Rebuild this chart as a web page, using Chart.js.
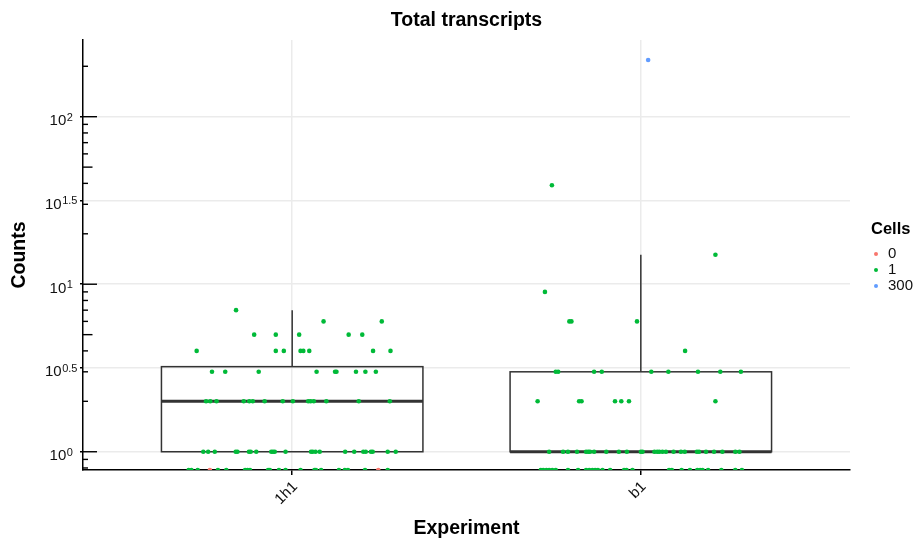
<!DOCTYPE html>
<html>
<head>
<meta charset="utf-8">
<script src="https://cdn.jsdelivr.net/npm/chart.js@4.4.0/dist/chart.umd.min.js"></script>
<style>
  body { margin: 0; background: #fff; }
  canvas { display: block; }
</style>
</head>
<body>
<canvas id="grafik" width="922" height="541"></canvas>
<script>
// Data
const experiments = ['1h1', 'b1'];
const cellLabels = ['0', '1', '300'];
const cellColors = ['#F8766D', '#00BA38', '#619CFF'];

// 1h1, cells = 1 : posisi jitter x per level count
const levels1h1 = [0, 1, 2, 3, 4, 5, 6, 7];
const jitter1h1 = [
  [0.703, 0.711, 0.729, 0.787, 0.811, 0.865, 0.872, 0.879, 0.931, 0.936, 0.962, 0.981, 1.024, 1.064, 1.068, 1.083, 1.134, 1.151, 1.160, 1.209, 1.274],
  [0.745, 0.759, 0.778, 0.838, 0.843, 0.876, 0.881, 0.897, 0.940, 0.945, 0.950, 0.981, 1.054, 1.059, 1.067, 1.079, 1.152, 1.178, 1.204, 1.211, 1.226, 1.231, 1.274, 1.297],
  [0.753, 0.765, 0.783, 0.861, 0.877, 0.887, 0.921, 0.973, 1.002, 1.046, 1.053, 1.062, 1.098, 1.191, 1.280],
  [0.770, 0.808, 0.904, 1.070, 1.123, 1.127, 1.183, 1.210, 1.240],
  [0.726, 0.953, 0.976, 1.024, 1.032, 1.049, 1.232, 1.282],
  [0.891, 0.953, 1.020, 1.162, 1.201],
  [1.090, 1.257],
  [0.839]
];
// 1h1, cells = 0
const zeroCellX = [0.764, 1.247];
const zeroCellY = [0, 0];

// b1, cells = 1
const levelsB1 = [0, 1, 2, 3, 4, 6, 9, 15, 39];
const jitterB1 = [
  [1.713, 1.720, 1.729, 1.737, 1.746, 1.756, 1.791, 1.820, 1.843, 1.852, 1.861, 1.869, 1.877, 1.890, 1.912, 1.952, 1.959, 1.976, 2.081, 2.089, 2.117, 2.141, 2.162, 2.170, 2.177, 2.193, 2.231, 2.271, 2.290],
  [1.737, 1.777, 1.791, 1.817, 1.843, 1.849, 1.854, 1.866, 1.901, 1.937, 1.960, 2.000, 2.005, 2.039, 2.047, 2.053, 2.062, 2.072, 2.094, 2.115, 2.126, 2.161, 2.167, 2.187, 2.210, 2.234, 2.271, 2.283],
  [1.704, 1.823, 1.830, 1.926, 1.944, 1.966, 2.214],
  [1.756, 1.763, 1.866, 1.888, 2.030, 2.079, 2.164, 2.228, 2.287],
  [2.127],
  [1.795, 1.801, 1.989],
  [1.725],
  [2.214],
  [1.745]
];
// b1, cells = 300
const bigCellX = [2.021];
const bigCellY = [218];

// Statistik boxplot per experiment
const boxQ1 = [1, 1];
const boxMedian = [2, 1];
const boxQ3 = [3.22, 3];
const whiskerLow = [1, 1];
const whiskerHigh = [7, 15];

// Sumbu y (log10)
const yTickExps = [0, 0.5, 1, 1.5, 2];
const yMin = 0.778;
const yMax = 287;

// Bangun titik scatter (count 0 -> tepi bawah panel, seperti -Inf)
const toPoint = (x, c) => ({ x: x, y: c === 0 ? yMin : c });
const onePoints = [];
levels1h1.forEach((c, i) => jitter1h1[i].forEach(x => onePoints.push(toPoint(x, c))));
levelsB1.forEach((c, i) => jitterB1[i].forEach(x => onePoints.push(toPoint(x, c))));
const zeroPoints = zeroCellX.map((x, i) => toPoint(x, zeroCellY[i]));
const bigPoints = bigCellX.map((x, i) => toPoint(x, bigCellY[i]));

const FONT = "'Liberation Sans', Arial, Helvetica, sans-serif";
Chart.defaults.font.family = FONT;

// Plugin boxplot (digambar sebelum titik)
const boxPlugin = {
  id: 'boxplot',
  beforeDatasetsDraw(chart) {
    const { ctx, scales: { x, y } } = chart;
    const boxWidth = 0.75;
    ctx.save();
    ctx.strokeStyle = '#333333';
    experiments.forEach((e, i) => {
      const left = x.getPixelForValue(i + 1 - boxWidth / 2);
      const right = x.getPixelForValue(i + 1 + boxWidth / 2);
      const cx = x.getPixelForValue(i + 1);
      const top = y.getPixelForValue(boxQ3[i]);
      const bot = y.getPixelForValue(boxQ1[i]);
      ctx.lineWidth = 1.5;
      ctx.beginPath();
      ctx.moveTo(cx, top);
      ctx.lineTo(cx, y.getPixelForValue(whiskerHigh[i]));
      ctx.moveTo(cx, bot);
      ctx.lineTo(cx, y.getPixelForValue(whiskerLow[i]));
      ctx.stroke();
      ctx.strokeRect(left, top, right - left, bot - top);
      ctx.lineWidth = 3;
      ctx.beginPath();
      const m = y.getPixelForValue(boxMedian[i]);
      ctx.moveTo(left, m);
      ctx.lineTo(right, m);
      ctx.stroke();
    });
    ctx.restore();
  }
};

// Plugin sumbu y: logticks + label 10^x + legenda
const axisPlugin = {
  id: 'axisExtras',
  afterDatasetsDraw(chart) {
    const { ctx, chartArea, scales: { y } } = chart;
    ctx.save();
    ctx.strokeStyle = '#000';
    ctx.lineWidth = 1.4;
    for (let k = -1; k <= 2; k++) {
      for (let m = 1; m <= 9; m++) {
        const v = m * Math.pow(10, k);
        if (v < yMin || v > yMax) continue;
        const len = m === 1 ? 14 : (m === 5 ? 9.5 : 5);
        const py = y.getPixelForValue(v);
        ctx.beginPath();
        ctx.moveTo(chartArea.left, py);
        ctx.lineTo(chartArea.left + len, py);
        ctx.stroke();
      }
    }
    ctx.restore();
  },
  afterDraw(chart) {
    const { ctx, scales: { y } } = chart;
    ctx.save();
    ctx.fillStyle = '#111';
    ctx.textBaseline = 'alphabetic';
    ctx.textAlign = 'left';
    yTickExps.forEach(e => {
      const py = y.getPixelForValue(Math.pow(10, e));
      const expTxt = String(e);
      ctx.font = '15px ' + FONT;
      const wb = ctx.measureText('10').width;
      ctx.font = '11px ' + FONT;
      const we = ctx.measureText(expTxt).width;
      const x0 = 61 - (wb + we) / 2;
      ctx.font = '15px ' + FONT;
      ctx.fillText('10', x0, py + 8.5);
      ctx.font = '11px ' + FONT;
      ctx.fillText(expTxt, x0 + wb + 0.5, py + 4);
    });

    // Legenda
    ctx.fillStyle = '#000';
    ctx.font = 'bold 16.5px ' + FONT;
    ctx.textBaseline = 'middle';
    ctx.fillText('Cells', 871, 229);
    ctx.font = '15px ' + FONT;
    cellLabels.forEach((lab, i) => {
      const ly = 254 + i * 16;
      ctx.fillStyle = cellColors[i];
      ctx.beginPath();
      ctx.arc(876, ly, 2, 0, Math.PI * 2);
      ctx.fill();
      ctx.fillStyle = '#111';
      ctx.fillText(lab, 888, ly);
    });
    ctx.restore();
  }
};

const ctx = document.getElementById('grafik').getContext('2d');
const grafik = new Chart(ctx, {
  type: 'scatter',
  data: {
    datasets: [
      { label: cellLabels[0], data: zeroPoints, backgroundColor: cellColors[0] },
      { label: cellLabels[1], data: onePoints, backgroundColor: cellColors[1] },
      { label: cellLabels[2], data: bigPoints, backgroundColor: cellColors[2] }
    ]
  },
  options: {
    responsive: false,
    animation: false,
    devicePixelRatio: 1,
    layout: { padding: { left: 0, right: 72, top: 0, bottom: 0 } },
    elements: { point: { radius: 2.3, borderWidth: 0, hoverRadius: 2.3 } },
    plugins: {
      legend: { display: false },
      tooltip: { enabled: false },
      title: {
        display: true,
        fullSize: false,
        text: 'Total transcripts',
        color: '#000',
        font: { size: 19.5, weight: 'bold' },
        padding: { top: 9, bottom: 7.6 }
      }
    },
    scales: {
      x: {
        type: 'linear',
        min: 0.4,
        max: 2.6,
        afterBuildTicks: s => { s.ticks = experiments.map((e, i) => ({ value: i + 1 })); },
        afterFit: s => { s.height = 71; s.paddingLeft = 0; s.paddingRight = 0; },
        ticks: {
          autoSkip: false,
          minRotation: 45,
          maxRotation: 45,
          padding: 3,
          labelOffset: 3,
          color: '#111',
          font: { size: 15 },
          callback: v => experiments[Math.round(v) - 1]
        },
        grid: { color: '#EBEBEB', lineWidth: 1.5, tickLength: 5, tickColor: '#000', tickWidth: 1.5 },
        border: { color: '#000', width: 1.5 },
        title: { display: true, text: 'Experiment', color: '#000', font: { size: 19.5, weight: 'bold' }, padding: { top: 0, bottom: 0.6 } }
      },
      y: {
        type: 'logarithmic',
        min: yMin,
        max: yMax,
        afterBuildTicks: s => { s.ticks = yTickExps.map(e => ({ value: Math.pow(10, e) })); },
        afterFit: s => { s.width = 83; s.paddingTop = 0; s.paddingBottom = 0; },
        ticks: { display: false },
        grid: { color: '#EBEBEB', lineWidth: 1.5, tickLength: 3, tickColor: '#000', tickWidth: 1.4 },
        border: { color: '#000', width: 1.5 },
        title: { display: true, text: 'Counts', color: '#000', font: { size: 19.5, weight: 'bold' }, padding: { top: 8, bottom: 0 } }
      }
    }
  },
  plugins: [boxPlugin, axisPlugin]
});
</script>
</body>
</html>
